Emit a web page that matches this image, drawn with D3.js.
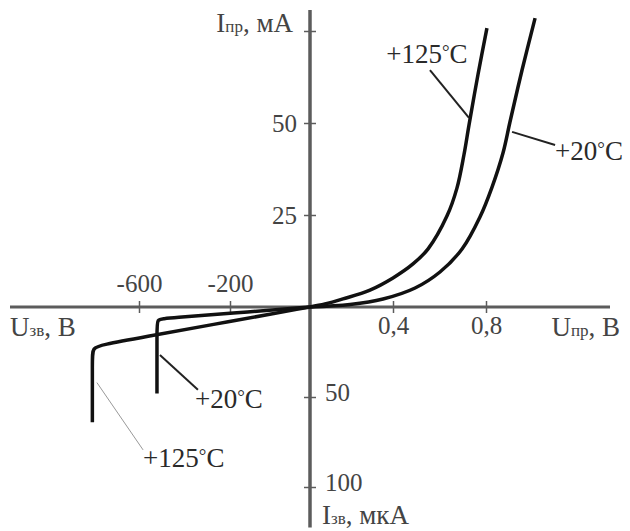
<!DOCTYPE html>
<html>
<head>
<meta charset="utf-8">
<script src="https://cdn.jsdelivr.net/npm/d3@7/dist/d3.min.js"></script>
<style>
body { margin: 0; background: #fff; }
svg { display: block; font-family: "Liberation Serif", "Times New Roman", serif; }
</style>
</head>
<body>
<svg id="chart" width="630" height="531"></svg>
<script>
// forward branch: U (V), I (mA)
var fwd20 = [[0,0],[0.193,0.68],[0.352,2.17],[0.495,5.16],[0.602,9.51],[0.697,15.76],[0.774,24.46],
             [0.826,32.6],[0.873,41.85],[0.903,50.27],[0.955,64.4],[1.011,78.5]];
var fwd125 = [[0,0],[0.072,0.8],[0.159,2.2],[0.289,4.6],[0.4,7.9],[0.486,11.7],[0.551,15.8],
              [0.632,24.7],[0.675,32.3],[0.705,41.3],[0.727,49.5],[0.766,63.3],[0.804,75.8]];
// reverse branch: U (V), I (uA)
var rev20 = [[0,0],[-200,3.5],[-464,6.1],[-490,6.5],[-521,6.9],[-521,12],[-521,48]];
var rev125 = [[0,0],[-200,8],[-600,17.2],[-760,21],[-805,22.6],[-805,29],[-805,64]];

var xTicksNeg = [-600, -200];
var xTicksPos = [0.4, 0.8];
var yTicksFwd = [25, 50, 75];
var yTicksRev = [50, 100];

// temperature labels: leader from -> to, text position; side = fwd / rev
var notes = [
    {t: "+125", side: "fwd", x1: 0.559, y1: 64.4, x2: 0.727, y2: 51.4, tx: 0.546, ty: 66.3, anchor: "middle", thin: false},
    {t: "+20",  side: "fwd", x1: 0.912, y1: 47.6, x2: 1.097, y2: 44,   tx: 1.097, ty: 40,   anchor: "start",  thin: false},
    {t: "+20",  side: "rev", x1: -508,  y1: 26.7, x2: -341,  y2: 46,   tx: -354,  ty: 56,   anchor: "start",  thin: false},
    {t: "+125", side: "rev", x1: -785,  y1: 42,   x2: -582,  y2: 79.4, tx: -582,  ty: 88.9, anchor: "start",  thin: true}
];

var svg = d3.select("#chart");
svg.append("rect").attr("width", 630).attr("height", 531).attr("fill", "#fff");

// scales (the sketch is not uniform, so piecewise)
var x = d3.scaleLinear()
    .domain([-1167, -600, -200, 0, 0.4, 0.8, 1.333])
    .range([10, 139, 230, 310, 393, 486, 610]);
var yF = d3.scaleLinear().domain([0, 75]).range([307, 31]);
var yR = d3.scaleLinear().domain([0, 100]).range([307, 487]);

var axisColor = "#5c5c5c";
var textColor = "#444";

//Axis lines
svg.append("line")
    .attr("x1", x(-1167)).attr("x2", x(1.333))
    .attr("y1", yF(0)).attr("y2", yF(0))
    .style("stroke", axisColor).style("stroke-width", 3);
svg.append("line")
    .attr("x1", x(0)).attr("x2", x(0))
    .attr("y1", yF(80.7)).attr("y2", yR(122.5))
    .style("stroke", axisColor).style("stroke-width", 3.5);

function styleAxis(g, cross) {
    g.select(".domain").remove();
    g.selectAll(".tick line")
        .attr(cross + "1", -6).attr(cross + "2", 6)
        .style("stroke", axisColor).style("stroke-width", 1.5);
    g.selectAll(".tick text")
        .attr("fill", textColor)
        .attr("font-size", "25px")
        .attr("font-family", "Liberation Serif, serif");
}

//Y axis, forward
svg.append("g")
    .attr("transform", "translate(" + x(0) + ",0)")
    .call(d3.axisLeft(yF).tickValues(yTicksFwd).tickSize(0).tickPadding(13)
        .tickFormat(function(d) { return d === 75 ? "" : d; }))
    .call(styleAxis, "x");

//Y axis, reverse
var gr = svg.append("g")
    .attr("transform", "translate(" + x(0) + ",0)")
    .call(d3.axisRight(yR).tickValues(yTicksRev).tickSize(0).tickPadding(15))
    .call(styleAxis, "x");
gr.selectAll(".tick text").attr("dy", "0.12em");

//X axis, reverse voltage
svg.append("g")
    .attr("transform", "translate(0," + yF(0) + ")")
    .call(d3.axisTop(x).tickValues(xTicksNeg).tickSize(0).tickPadding(15)
        .tickFormat(function(d) { return "-" + Math.abs(d); }))
    .call(styleAxis, "y");

//X axis, forward voltage
svg.append("g")
    .attr("transform", "translate(0," + yF(0) + ")")
    .call(d3.axisBottom(x).tickValues(xTicksPos).tickSize(0).tickPadding(9)
        .tickFormat(function(d) { return d3.format(".1f")(d).replace(".", ","); }))
    .call(styleAxis, "y");

// axis titles
function title(tx, ty, anchor, main, sub, rest) {
    var t = svg.append("text")
        .attr("x", tx).attr("y", ty)
        .attr("text-anchor", anchor)
        .attr("font-size", "27px")
        .attr("fill", textColor);
    t.append("tspan").text(main);
    t.append("tspan").attr("font-size", "17px").text(sub);
    t.append("tspan").text(rest);
}
title(x(0) - 17, 32, "end", "I", "пр", ", мА");
title(x(-1167), 336, "start", "U", "зв", ", В");
title(x(1.333) + 10, 336, "end", "U", "пр", ", В");
title(x(0) + 12, 524, "start", "I", "зв", ", мкА");

//Curves
var lineF = d3.line()
    .x(function(d) { return x(d[0]); })
    .y(function(d) { return yF(d[1]); })
    .curve(d3.curveCatmullRom.alpha(0.5));
var lineR = d3.line()
    .x(function(d) { return x(d[0]); })
    .y(function(d) { return yR(d[1]); })
    .curve(d3.curveBasis);

[fwd20, fwd125].forEach(function(s) {
    svg.append("path").attr("d", lineF(s))
        .attr("fill", "none").style("stroke", "#111").style("stroke-width", 3.5);
});
[rev20, rev125].forEach(function(s) {
    svg.append("path").attr("d", lineR(s))
        .attr("fill", "none").style("stroke", "#111").style("stroke-width", 3.5)
        .style("stroke-linejoin", "round");
});

//Temperature labels
notes.forEach(function(n) {
    var ys = n.side === "fwd" ? yF : yR;
    svg.append("line")
        .attr("x1", x(n.x1)).attr("y1", ys(n.y1))
        .attr("x2", x(n.x2)).attr("y2", ys(n.y2))
        .style("stroke", n.thin ? "#999" : "#222")
        .style("stroke-width", n.thin ? 1 : 2);
    var t = svg.append("text")
        .attr("x", x(n.tx)).attr("y", ys(n.ty))
        .attr("text-anchor", n.anchor)
        .attr("font-size", "27px")
        .attr("fill", "#2a2a2a");
    t.append("tspan").text(n.t);
    t.append("tspan").attr("font-size", "19px").attr("dy", -5).text("°");
    t.append("tspan").attr("dy", 5).text("C");
});
</script>
</body>
</html>
